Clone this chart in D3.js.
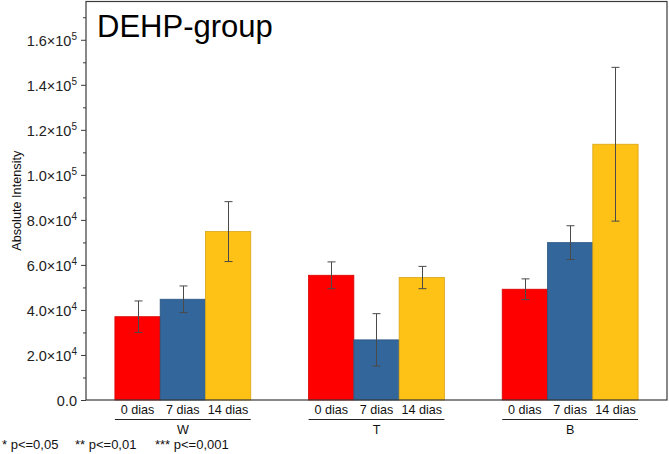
<!DOCTYPE html>
<html>
<head>
<meta charset="utf-8">
<script src="https://cdn.jsdelivr.net/npm/d3@7"></script>
<style>
  html, body { margin: 0; padding: 0; background: #fff; }
  svg { display: block; font-family: "Liberation Sans", Arial, sans-serif; }
</style>
</head>
<body>
<svg id="chart" width="669" height="454"></svg>
<script>
// ---- data ----
const groups = ["W", "T", "B"];
const times = ["0 dias", "7 dias", "14 dias"];
const values0 = [37000, 55400, 49200];
const errors0 = [7000, 5950, 4600];
const values7 = [44750, 26700, 69900];
const errors7 = [5900, 11650, 7500];
const values14 = [74800, 54400, 113600];
const errors14 = [13300, 4950, 34150];
const majorTicks = [0, 20000, 40000, 60000, 80000, 100000, 120000, 140000, 160000];
const majorTickMantissa = ["0.0", "2.0", "4.0", "6.0", "8.0", "1.0", "1.2", "1.4", "1.6"];
const majorTickExponent = ["", "4", "4", "4", "4", "5", "5", "5", "5"];
const minorTicks = [10000, 30000, 50000, 70000, 90000, 110000, 130000, 150000, 170000];
const footnotes = ["* p<=0,05", "** p<=0,01", "*** p<=0,001"];
const chartTitle = "DEHP-group";
const yTitle = "Absolute Intensity";

(function () {
const seriesValues = [values0, values7, values14];
const seriesErrors = [errors0, errors7, errors14];
const fills = ["#fe0000", "#33669a", "#fec116"];
const strokes = ["#d80000", "#2a5680", "#d9a414"];

const rows = [];
groups.forEach((g, gi) => {
  times.forEach((t, ti) => {
    rows.push({ group: g, time: t, ti, value: seriesValues[ti][gi], err: seriesErrors[ti][gi] });
  });
});

// ---- layout ----
const pLeft = 86, pRight = 667, pTop = 1.5, pBottom = 400;
const svg = d3.select("#chart");
const font = '"Liberation Sans", Arial, sans-serif';

const x = d3.scaleBand().domain(groups).range([pLeft, pRight]).paddingInner(0).paddingOuter(0);
const xSub = d3.scaleBand().domain(times).range([0, x.bandwidth()]).paddingInner(0).paddingOuter(0.638);
const y = d3.scaleLinear().domain([0, 177000]).range([pBottom, pTop]);

// bars
svg.append("g").selectAll("rect").data(rows).join("rect")
  .attr("x", d => x(d.group) + xSub(d.time))
  .attr("y", d => y(d.value))
  .attr("width", xSub.bandwidth())
  .attr("height", d => y(0) - y(d.value))
  .attr("fill", d => fills[d.ti])
  .attr("stroke", d => strokes[d.ti])
  .attr("stroke-width", 0.8);

// error bars
const eb = svg.append("g").attr("stroke", "#4a4a4a").attr("stroke-width", 1);
rows.forEach(d => {
  const cx = Math.round(x(d.group) + xSub(d.time) + xSub.bandwidth() / 2) + 0.5;
  const y1 = y(d.value + d.err), y2 = y(d.value - d.err);
  eb.append("line").attr("x1", cx).attr("x2", cx).attr("y1", y1).attr("y2", y2);
  eb.append("line").attr("x1", cx - 4).attr("x2", cx + 4).attr("y1", y1).attr("y2", y1);
  eb.append("line").attr("x1", cx - 4).attr("x2", cx + 4).attr("y1", y2).attr("y2", y2);
});

// frame
svg.append("rect")
  .attr("x", pLeft).attr("y", pTop)
  .attr("width", pRight - pLeft).attr("height", pBottom - pTop)
  .attr("fill", "none").attr("stroke", "#3a3a3a").attr("stroke-width", 1.2);

// y axis major
const yAxis = d3.axisLeft(y).tickValues(majorTicks).tickSize(5).tickPadding(4).tickFormat("");
const gy = svg.append("g").attr("transform", `translate(${pLeft},0)`).call(yAxis);
gy.select(".domain").remove();
gy.selectAll(".tick line").attr("stroke", "#3a3a3a");
gy.selectAll(".tick text").each(function(d, i) {
  const t = d3.select(this);
  t.text(null)
    .attr("font-family", font).attr("font-size", 14.5).attr("fill", "#222")
    .attr("dy", "0.36em");
  if (majorTickExponent[i] === "") {
    t.append("tspan").text(majorTickMantissa[i]);
  } else {
    t.append("tspan").text(majorTickMantissa[i] + "×10");
    t.append("tspan").text(majorTickExponent[i]).attr("font-size", 10).attr("dy", "-0.55em");
  }
});

// y axis minor
const yMinor = d3.axisLeft(y).tickValues(minorTicks).tickSize(3).tickFormat("");
const gm = svg.append("g").attr("transform", `translate(${pLeft},0)`).call(yMinor);
gm.select(".domain").remove();
gm.selectAll(".tick line").attr("stroke", "#3a3a3a");

// y title
svg.append("text")
  .attr("transform", `translate(21,${(pTop + pBottom) / 2}) rotate(-90)`)
  .attr("text-anchor", "middle")
  .attr("font-family", font).attr("font-size", 12.7).attr("fill", "#111")
  .text(yTitle);

// chart title
svg.append("text")
  .attr("x", 97).attr("y", 37)
  .attr("font-family", font).attr("font-size", 31).attr("fill", "#000")
  .text(chartTitle);

// category labels
svg.append("g").selectAll("text").data(rows).join("text")
  .attr("x", d => x(d.group) + xSub(d.time) + xSub.bandwidth() / 2)
  .attr("y", 414)
  .attr("text-anchor", "middle")
  .attr("font-family", font).attr("font-size", 12.6).attr("fill", "#111")
  .text(d => d.time);

// group underline + group labels
groups.forEach(g => {
  const x0 = x(g) + xSub(times[0]);
  const x1 = x(g) + xSub(times[times.length - 1]) + xSub.bandwidth();
  svg.append("line")
    .attr("x1", x0).attr("x2", x1).attr("y1", 419.5).attr("y2", 419.5)
    .attr("stroke", "#222").attr("stroke-width", 1);
  svg.append("text")
    .attr("x", x(g) + x.bandwidth() / 2).attr("y", 433.5)
    .attr("text-anchor", "middle")
    .attr("font-family", font).attr("font-size", 12.6).attr("fill", "#111")
    .text(g);
});

// footnotes
const footX = [2, 75, 155];
footnotes.forEach((f, i) => {
  svg.append("text")
    .attr("x", footX[i]).attr("y", 449)
    .attr("font-family", font).attr("font-size", 13).attr("fill", "#111")
    .text(f);
});
})();
</script>
</body>
</html>
